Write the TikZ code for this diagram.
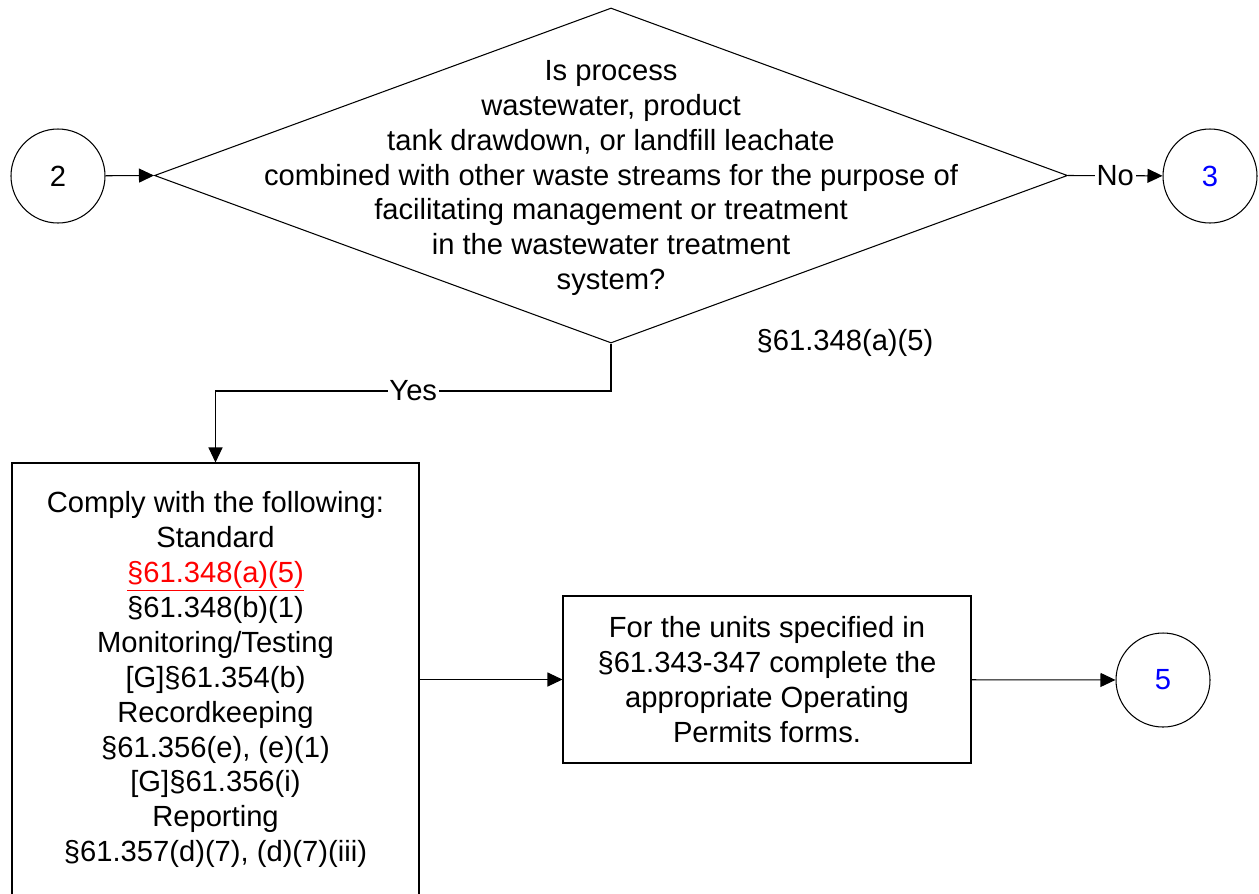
\documentclass[tikz,border=0pt]{standalone}
\usepackage{fontspec}
\setmainfont{Liberation Sans}
\usetikzlibrary{shapes.geometric,arrows.meta}
\tikzset{
  every node/.style={font=\fontsize{16.6}{19.9}\selectfont, align=center},
  conn/.style={draw, circle, minimum size=1.88cm, inner sep=0pt, line width=0.6pt},
  boxnode/.style={draw, rectangle, inner sep=0pt, line width=0.6pt},
  link/.style={line width=0.6pt, -{Triangle[length=0.3cm,width=0.28cm]}}
}
\begin{document}
\begin{tikzpicture}
\useasboundingbox (0,0) rectangle (25.18,-17.86);
\clip (0,0) rectangle (25.18,-17.86);

% decision
\node[conn] (c2) at (1.16,-3.52) {2};
\node[draw, diamond, line width=0.6pt, inner sep=0pt, minimum width=18.26cm, minimum height=6.7cm] (dec) at (12.22,-3.51) {};
\node (dectext) at ([yshift=-0.05cm]dec.center) {Is process\\wastewater, product\\tank drawdown, or landfill leachate\\combined with other waste streams for the purpose of\\facilitating management or treatment\\in the wastewater treatment\\system?};
\node (cite) at (16.9,-6.86) {\S61.348(a)(5)};
\node[conn, text=blue] (c3) at (24.2,-3.52) {3};

\draw[link] (c2) -- (dec.west);
\draw[link] (dec.east) -- node[fill=white, inner sep=1pt] {No} (c3);

% yes branch
\node[boxnode, minimum width=8.14cm, minimum height=8.66cm] (comply) at (4.31,-13.59)
  {Comply with the following:\\Standard\\\textcolor{red}{\underline{\S61.348(a)(5)}}\\\S61.348(b)(1)\\Monitoring/Testing\\{[G]}\S61.354(b)\\Recordkeeping\\\S61.356(e), (e)(1)\\{[G]}\S61.356(i)\\Reporting\\\S61.357(d)(7), (d)(7)(iii)};
\coordinate (bend) at (12.22,-7.82);
\draw[link] (dec.south) -- (bend) -- node[fill=white, inner sep=1pt] {Yes} (comply.north |- bend) -- (comply.north);

% forms
\node[boxnode, minimum width=8.16cm, minimum height=3.34cm] (forms) at (15.34,-13.59)
  {For the units specified in\\\S61.343-347 complete the\\appropriate Operating\\Permits forms.};
\node[conn, text=blue] (c5) at (23.26,-13.6) {5};

\draw[link] (comply.east |- forms.west) -- (forms.west);
\draw[link] (forms) -- (c5);
\end{tikzpicture}
\end{document}
